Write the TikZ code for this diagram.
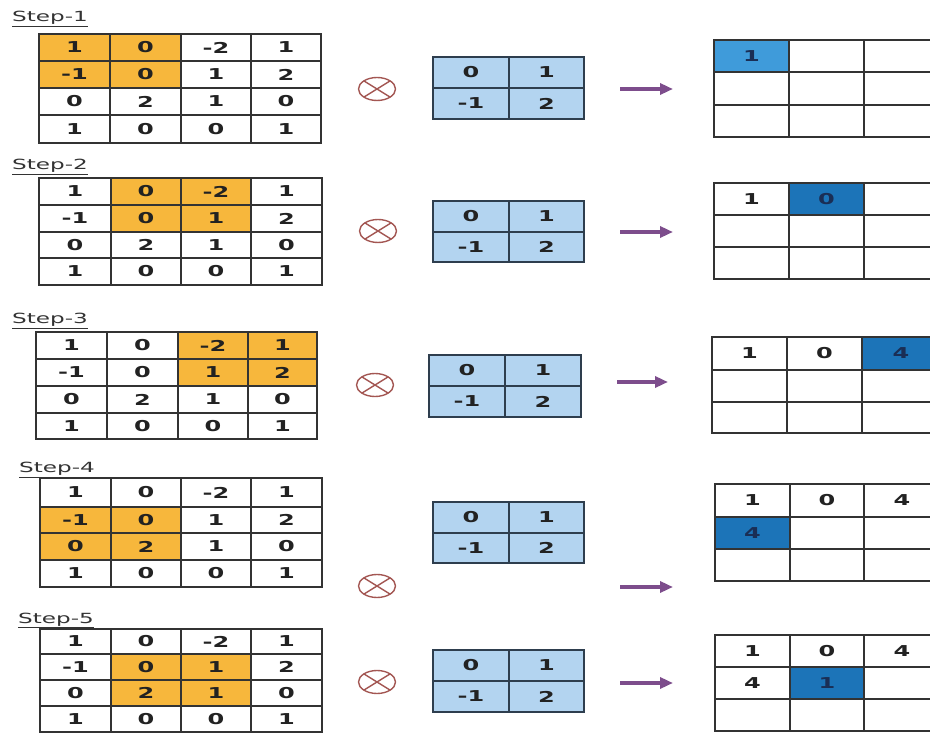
\documentclass[tikz,border=0pt]{standalone}
\usepackage{fontspec}
\usetikzlibrary{arrows.meta,shapes.geometric}
\newfontfamily\cellfont{DejaVu Sans}[FakeStretch=1.6]
\newfontfamily\labfont{DejaVu Sans}[FakeStretch=1.65]
\definecolor{gridc}{HTML}{333333}
\definecolor{orangec}{HTML}{F7B73C}
\definecolor{kerfill}{HTML}{B3D4F0}
\definecolor{kerline}{HTML}{2E3E4E}
\definecolor{outlight}{HTML}{3F9BDA}
\definecolor{outdark}{HTML}{1C74B8}
\definecolor{navy}{HTML}{1A2E55}
\definecolor{otc}{HTML}{A35652}
\definecolor{arrc}{HTML}{7D4D8C}
\definecolor{textc}{HTML}{222222}
\tikzset{
 cellbase/.style={draw=gridc, line width=1.6pt, inner sep=0pt, rectangle, text=textc,
   font=\cellfont\bfseries\fontsize{15}{15}\selectfont},
 hl0/.style={fill=white},
 hl1/.style={fill=orangec},
 kcell/.style={cellbase, draw=kerline, fill=kerfill},
 oh0/.style={fill=white},
 oh1/.style={fill=outlight, text=navy},
 oh2/.style={fill=outdark, text=navy},
 steplabel/.style={anchor=base west, inner sep=0pt, text=gridc,
   font=\labfont\fontsize{14}{14}\selectfont},
 otimesnode/.style={ellipse, draw=otc, line width=1.4pt, minimum width=37pt,
   minimum height=23pt, inner sep=0pt},
 otcross/.style={draw=otc, line width=1.4pt},
 parrow/.style={draw=arrc, line width=3.5pt, -{Triangle[length=13pt,width=11pt]}},
}
% input grid: #1 id, #2 xs, #3 ys, #4 first highlighted row, #5 first highlighted column
\newcommand\ingrid[5]{%
 \foreach \ri in {0,...,3}{\foreach \ci in {0,...,3}{
   \pgfmathsetmacro\xa{{#2}[\ci]}
   \pgfmathsetmacro\xb{{#2}[\ci+1]}
   \pgfmathsetmacro\ya{{#3}[\ri]}
   \pgfmathsetmacro\yb{{#3}[\ri+1]}
   \pgfmathparse{{"1","0","-2","1","-1","0","1","2","0","2","1","0","1","0","0","1"}[4*\ri+\ci]}
   \let\cv\pgfmathresult
   \pgfmathtruncatemacro\hv{and(and(\ri>#4-1,\ri<#4+2),and(\ci>#5-1,\ci<#5+2))}
   \node[cellbase, hl\hv, minimum width=\xb-\xa, minimum height=\yb-\ya]
     (in#1-\ri\ci) at ({(\xa+\xb)/2},{(\ya+\yb)/2}) {\cv};
 }}}
% kernel: #1 id, #2 xs, #3 ys
\newcommand\kernel[3]{%
 \foreach \ri in {0,1}{\foreach \ci in {0,1}{
   \pgfmathsetmacro\xa{{#2}[\ci]}
   \pgfmathsetmacro\xb{{#2}[\ci+1]}
   \pgfmathsetmacro\ya{{#3}[\ri]}
   \pgfmathsetmacro\yb{{#3}[\ri+1]}
   \pgfmathparse{{"0","1","-1","2"}[2*\ri+\ci]}
   \let\cv\pgfmathresult
   \node[kcell, minimum width=\xb-\xa, minimum height=\yb-\ya]
     (k#1-\ri\ci) at ({(\xa+\xb)/2},{(\ya+\yb)/2}) {\cv};
 }}}
% output grid: #1 id, #2 xs, #3 ys, #4 list row/col/value/style
\newcommand\outgrid[4]{%
 \foreach \ri/\ci/\cv/\hv in {#4}{
   \pgfmathsetmacro\xa{{#2}[\ci]}
   \pgfmathsetmacro\xb{{#2}[\ci+1]}
   \pgfmathsetmacro\ya{{#3}[\ri]}
   \pgfmathsetmacro\yb{{#3}[\ri+1]}
   \node[cellbase, oh\hv, minimum width=\xb-\xa, minimum height=\yb-\ya]
     (out#1-\ri\ci) at ({(\xa+\xb)/2},{(\ya+\yb)/2}) {\cv};
 }}
\newcommand\otimesat[2]{%
 \node[otimesnode] (#1) at (#2) {};
 \draw[otcross] ([shift={(-13.1,-8.1)}]#1.center) -- ([shift={(13.1,8.1)}]#1.center);
 \draw[otcross] ([shift={(-13.1,8.1)}]#1.center) -- ([shift={(13.1,-8.1)}]#1.center);}
\newcommand\arrowat[4]{%
 \coordinate (#1s) at (#2,#4);
 \coordinate (#1e) at (#3,#4);
 \draw[parrow] (#1s) -- (#1e);}
\begin{document}
\begin{tikzpicture}[x=1pt,y=-1pt]
\useasboundingbox (0,0) rectangle (930,735);
\clip (0,0) rectangle (930,735);
\fill[white] (0,0) rectangle (930,735);
% ---------- Step 1
\node[steplabel] (lab1) at (12,22) {\underline{Step-1}};
\ingrid{1}{39,110,181,251,321}{34,61,88,115,143}{0}{0}
\otimesat{ot1}{377,89}
\kernel{1}{433,509,584}{57,88,119}
\arrowat{ar1}{620}{673}{89}
\outgrid{1}{714,789,864,940}{40,72,105,137}{0/0/1/1,0/1//0,0/2//0,1/0//0,1/1//0,1/2//0,2/0//0,2/1//0,2/2//0}
% ---------- Step 2
\node[steplabel] (lab2) at (12,170) {\underline{Step-2}};
\ingrid{2}{39,111,181,251,322}{178,205,232,258,285}{0}{1}
\otimesat{ot2}{378,231}
\kernel{2}{433,509,584}{201,232,262}
\arrowat{ar2}{620}{673}{232}
\outgrid{2}{714,789,864,940}{183,215,247,279}{0/0/1/0,0/1/0/2,0/2//0,1/0//0,1/1//0,1/2//0,2/0//0,2/1//0,2/2//0}
% ---------- Step 3
\node[steplabel] (lab3) at (12,324) {\underline{Step-3}};
\ingrid{3}{36,107,178,248,317}{332,359,386,413,439}{0}{2}
\otimesat{ot3}{375,385}
\kernel{3}{429,505,581}{355,386,417}
\arrowat{ar3}{617}{668}{382}
\outgrid{3}{712,787,862,940}{337,370,402,433}{0/0/1/0,0/1/0/0,0/2/4/2,1/0//0,1/1//0,1/2//0,2/0//0,2/1//0,2/2//0}
% ---------- Step 4
\node[steplabel] (lab4) at (19,473) {\underline{Step-4}};
\ingrid{4}{40,111,181,251,322}{478,507,533,560,587}{1}{0}
\otimesat{ot4}{377,586}
\kernel{4}{433,509,584}{502,533,563}
\arrowat{ar4}{620}{673}{587}
\outgrid{4}{715,790,864,940}{484,517,549,581}{0/0/1/0,0/1/0/0,0/2/4/0,1/0/4/2,1/1//0,1/2//0,2/0//0,2/1//0,2/2//0}
% ---------- Step 5
\node[steplabel] (lab5) at (18,623) {\underline{Step-5}};
\ingrid{5}{40,111,181,251,322}{629,654,680,706,732}{1}{1}
\otimesat{ot5}{377,682}
\kernel{5}{433,509,584}{650,681,712}
\arrowat{ar5}{620}{673}{683}
\outgrid{5}{715,790,864,940}{635,667,699,731}{0/0/1/0,0/1/0/0,0/2/4/0,1/0/4/0,1/1/1/2,1/2//0,2/0//0,2/1//0,2/2//0}
\end{tikzpicture}
\end{document}
